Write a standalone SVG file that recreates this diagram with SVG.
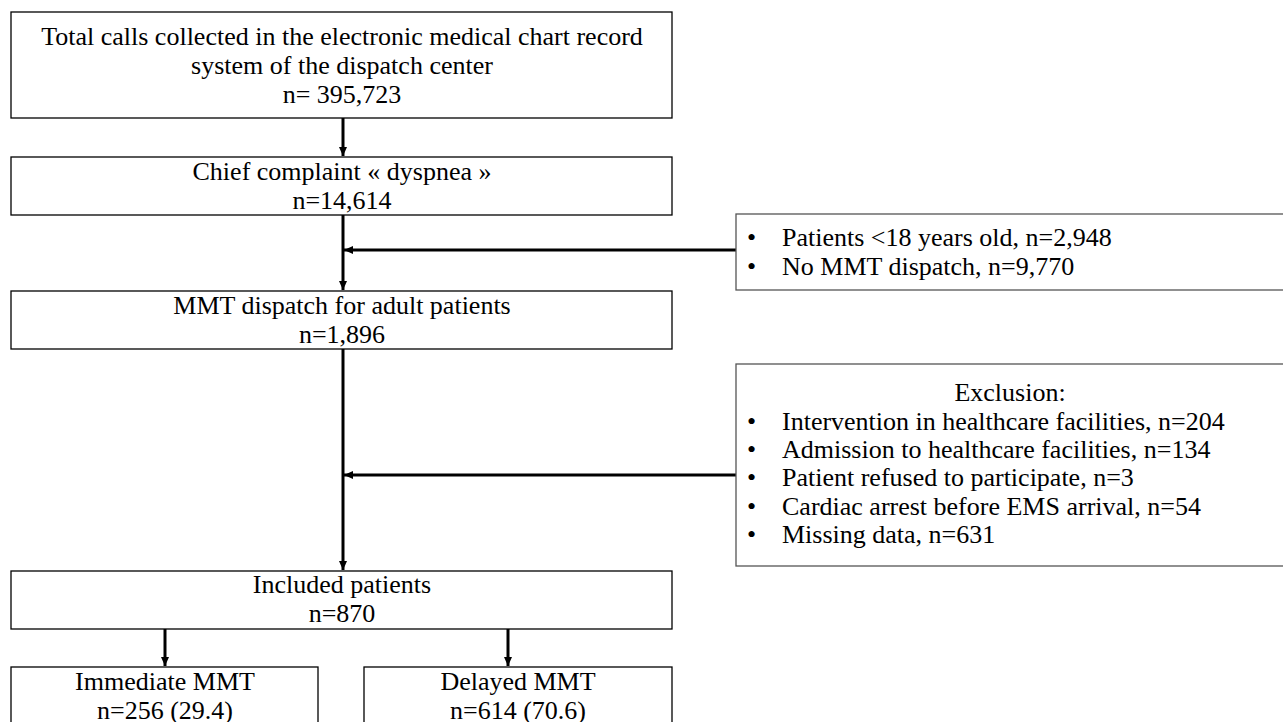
<svg xmlns="http://www.w3.org/2000/svg" width="1283" height="722" viewBox="0 0 1283 722">
<style>
.box{fill:#fff;stroke:#000;stroke-width:1.3}
.ex{fill:#fff;stroke:#555;stroke-width:1.3}
.c{text-anchor:middle}
.conn{stroke:#000;stroke-width:3;fill:none}
</style>
<defs>
<marker id="ah" markerWidth="10" markerHeight="10" refX="9" refY="5" orient="auto" markerUnits="userSpaceOnUse">
<path d="M0,1 L9,5 L0,9 Z" fill="#000"/>
</marker>
</defs>
<rect width="1283" height="722" fill="#fff"/>
<g id="connectors">
<line class="conn" x1="343" y1="118" x2="343" y2="156" marker-end="url(#ah)"/>
<line class="conn" x1="343" y1="215" x2="343" y2="290" marker-end="url(#ah)"/>
<line class="conn" x1="736" y1="250" x2="344" y2="250" marker-end="url(#ah)"/>
<line class="conn" x1="343" y1="349" x2="343" y2="570" marker-end="url(#ah)"/>
<line class="conn" x1="736" y1="475" x2="344" y2="475" marker-end="url(#ah)"/>
<line class="conn" x1="165" y1="629" x2="165" y2="666" marker-end="url(#ah)"/>
<line class="conn" x1="508" y1="629" x2="508" y2="666" marker-end="url(#ah)"/>
</g>
<g font-family="'Liberation Serif', 'Times New Roman', serif" font-size="26" fill="#000">
<g id="total">
<rect class="box" x="11" y="12" width="661" height="106"/>
<text class="c" x="342" y="45">Total calls collected in the electronic medical chart record</text>
<text class="c" x="342" y="74">system of the dispatch center</text>
<text class="c" x="342" y="103">n= 395,723</text>
</g>
<g id="chief">
<rect class="box" x="11" y="157" width="661" height="58"/>
<text class="c" x="342" y="180">Chief complaint « dyspnea »</text>
<text class="c" x="342" y="209">n=14,614</text>
</g>
<g id="excl1">
<rect class="ex" x="736" y="214" width="560" height="76"/>
<text x="747" y="246">•</text>
<text x="782" y="246">Patients &lt;18 years old, n=2,948</text>
<text x="747" y="275">•</text>
<text x="782" y="275">No MMT dispatch, n=9,770</text>
</g>
<g id="mmt">
<rect class="box" x="11" y="291" width="661" height="58"/>
<text class="c" x="342" y="314">MMT dispatch for adult patients</text>
<text class="c" x="342" y="343">n=1,896</text>
</g>
<g id="excl2">
<rect class="ex" x="736" y="364" width="560" height="202"/>
<text class="c" x="1010" y="401">Exclusion:</text>
<text x="747" y="430">•</text>
<text x="782" y="430">Intervention in healthcare facilities, n=204</text>
<text x="747" y="458">•</text>
<text x="782" y="458">Admission to healthcare facilities, n=134</text>
<text x="747" y="486">•</text>
<text x="782" y="486">Patient refused to participate, n=3</text>
<text x="747" y="515">•</text>
<text x="782" y="515">Cardiac arrest before EMS arrival, n=54</text>
<text x="747" y="543">•</text>
<text x="782" y="543">Missing data, n=631</text>
</g>
<g id="included">
<rect class="box" x="11" y="571" width="661" height="58"/>
<text class="c" x="342" y="593">Included patients</text>
<text class="c" x="342" y="622">n=870</text>
</g>
<g id="immediate">
<rect class="box" x="11" y="667" width="307" height="70"/>
<text class="c" x="165" y="690">Immediate MMT</text>
<text class="c" x="165" y="719">n=256 (29.4)</text>
</g>
<g id="delayed">
<rect class="box" x="364" y="667" width="308" height="70"/>
<text class="c" x="518" y="690">Delayed MMT</text>
<text class="c" x="518" y="719">n=614 (70.6)</text>
</g>
</g>
</svg>
